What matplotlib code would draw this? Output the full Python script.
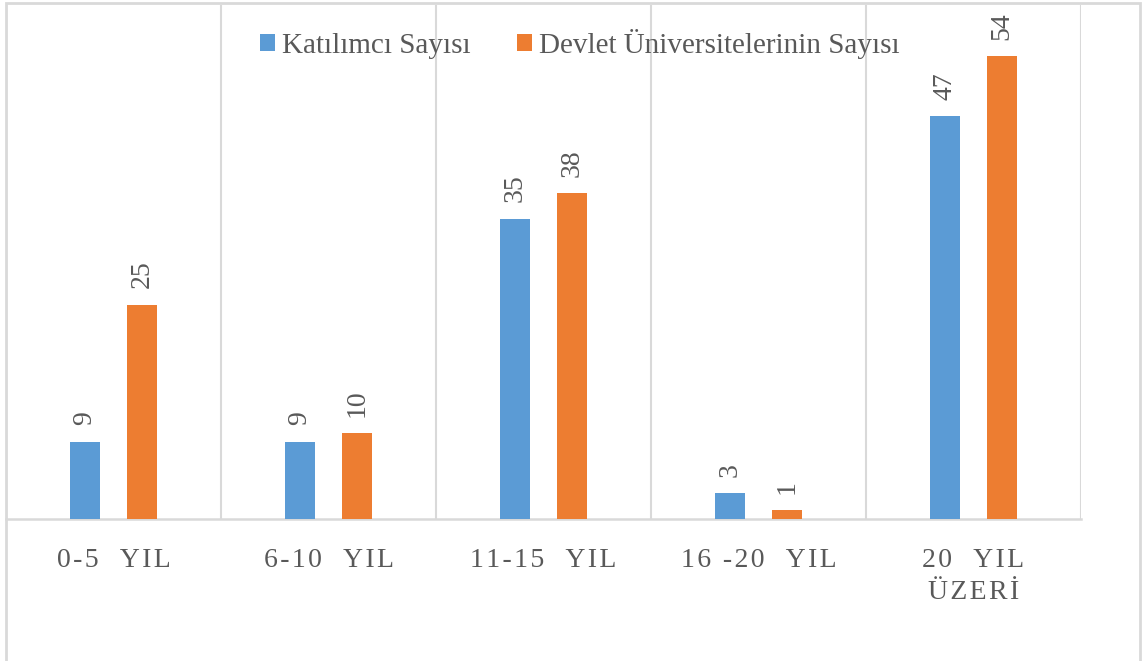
import numpy as np
import matplotlib.pyplot as plt
from matplotlib.patches import Rectangle

categories = ['0-5  YIL', '6-10  YIL', '11-15  YIL', '16 -20  YIL', '20  YIL\nÜZERİ']
katilimci = [9, 9, 35, 3, 47]
devlet = [25, 10, 38, 1, 54]
series_names = ['Katılımcı Sayısı', 'Devlet Üniversitelerinin Sayısı']

blue = '#5B9BD5'
orange = '#ED7D31'
text_gray = '#595959'
grid_gray = '#D9D9D9'

plt.rcParams['font.family'] = ['Liberation Serif', 'DejaVu Serif']


def spaced(label):
    # excel-style letter spacing
    lines = []
    for line in label.split('\n'):
        lines.append('\u200a'.join(line))
    return '\n'.join(lines)


fig = plt.figure(figsize=(11.44, 6.61), dpi=100)
ax = fig.add_axes([6 / 1144, 142 / 661, 1075 / 1144, 514 / 661])

x = np.arange(len(categories))
w = 0.135
off = 0.1326
b1 = ax.bar(x - off, katilimci, w, color=blue, label=series_names[0], zorder=3)
b2 = ax.bar(x + off, devlet, w, color=orange, label=series_names[1], zorder=3)

for bars in (b1, b2):
    for rect in bars:
        h = rect.get_height()
        ax.annotate(str(int(h)), (rect.get_x() + rect.get_width() / 2, h),
                    xytext=(0, 12), textcoords='offset points',
                    rotation=90, ha='center', va='bottom',
                    fontsize=20, color=text_gray)

ax.set_xlim(-0.5, 4.5)
ax.set_ylim(0, 60)
ax.set_yticks([])
ax.set_xticks(x)
ax.set_xticklabels([spaced(c) for c in categories], fontsize=20, color=text_gray,
                   linespacing=1.35, va='top')
ax.set_xticks(np.arange(-0.5, 5), minor=True)
ax.tick_params(axis='x', which='both', length=0, pad=21)
ax.grid(axis='x', which='minor', color=grid_gray, linewidth=1.5, zorder=0)
ax.grid(axis='x', which='major', visible=False)
for s in ['top', 'left', 'right']:
    ax.spines[s].set_visible(False)
ax.spines['bottom'].set_color(grid_gray)
ax.spines['bottom'].set_linewidth(1.8)

leg = ax.legend(loc='center', bbox_to_anchor=(0.534, 0.924), ncol=2, frameon=False,
                fontsize=21, handlelength=0.5, handleheight=0.5,
                handletextpad=0.25, columnspacing=1.6)
for t in leg.get_texts():
    t.set_color(text_gray)

fig.patches.append(Rectangle((6 / 1144, -0.02), 1134 / 1144, 658 / 661 + 0.02,
                             transform=fig.transFigure, fill=False,
                             edgecolor=grid_gray, linewidth=2))

fig.savefig('out.png', dpi=100)
